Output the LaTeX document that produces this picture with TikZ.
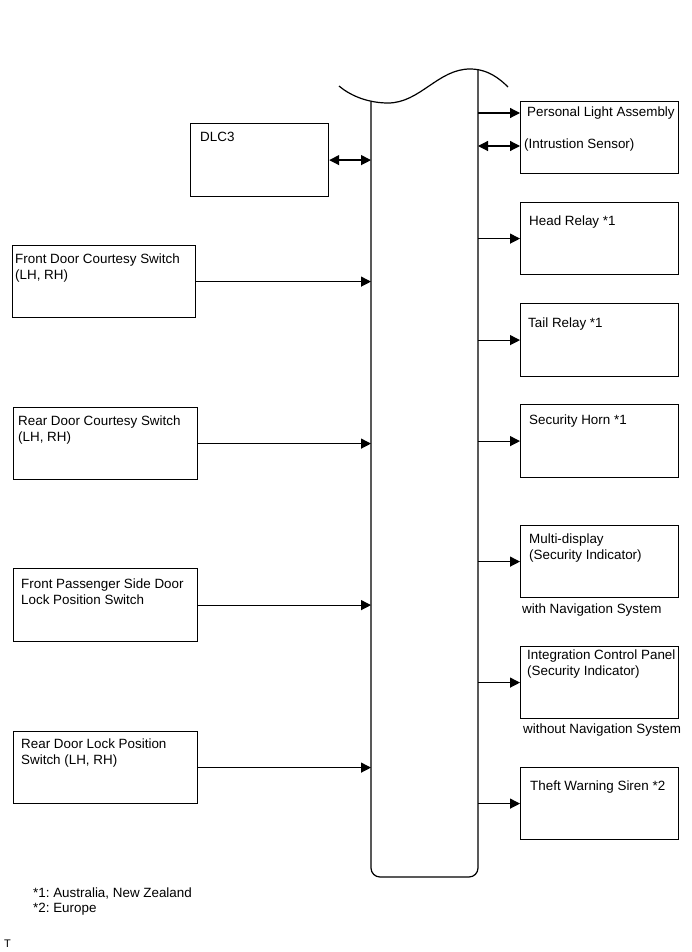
\documentclass[tikz,border=0pt]{standalone}
\usepackage{fontspec}
\setmainfont{Liberation Sans}
\frenchspacing
\usetikzlibrary{arrows.meta}
\begin{document}
\begin{tikzpicture}[x=1pt,y=-1pt,
  box/.style={draw, line width=1.2pt, inner sep=0pt, anchor=north west},
  lbl/.style={inner sep=0pt, anchor=base west, align=left, font=\fontsize{13.4pt}{16pt}\selectfont},
  arr/.style={line width=1.2pt, -{Triangle[length=10pt,width=10pt]}},
  darr/.style={line width=1.2pt, {Triangle[length=10pt,width=10pt]}-{Triangle[length=10pt,width=10pt]}},
  ln/.style={line width=1.2pt}]
\useasboundingbox (0,0) rectangle (691,952);
% ECU bar
\coordinate (barL) at (371,102);
\coordinate (barR) at (478,70);
\draw[ln] (339,86) .. controls (352,97) and (370,103) .. (388,103)
  .. controls (420,103) and (438,69) .. (470,69)
  .. controls (488,69) and (500,79) .. (508,87);
\draw[ln, rounded corners=9pt] (barL) -- (371,877) -- (478,877) -- (barR);
% left boxes
\node[box, minimum width=138pt, minimum height=73pt] (dlc) at (190,123) {};
\node[lbl] (dlct) at (200,142) {DLC3};
\node[box, minimum width=183pt, minimum height=72pt] (fd) at (12,245) {};
\node[lbl] (fdt) at (15,279) {Front Door Courtesy Switch\\(LH, RH)};
\node[box, minimum width=184pt, minimum height=72pt] (rd) at (13,407) {};
\node[lbl] (rdt) at (18,441) {Rear Door Courtesy Switch\\(LH, RH)};
\node[box, minimum width=184pt, minimum height=73pt] (fp) at (13,568) {};
\node[lbl] (fpt) at (21,604) {Front Passenger Side Door\\Lock Position Switch};
\node[box, minimum width=184pt, minimum height=72pt] (rl) at (13,731) {};
\node[lbl] (rlt) at (21,764) {Rear Door Lock Position\\Switch (LH, RH)};
% right boxes
\node[box, minimum width=158pt, minimum height=72pt] (pl) at (520,101) {};
\node[lbl] (plt) at (527,117) {Personal Light Assembly};
\node[lbl] (ist) at (524,149) {(Intrustion Sensor)};
\node[box, minimum width=158pt, minimum height=72pt] (hr) at (520,202) {};
\node[lbl] (hrt) at (529,225) {Head Relay *1};
\node[box, minimum width=158pt, minimum height=73pt] (tr) at (520,303) {};
\node[lbl] (trt) at (528,327) {Tail Relay *1};
\node[box, minimum width=158pt, minimum height=73pt] (sh) at (520,404) {};
\node[lbl] (sht) at (529,424) {Security Horn *1};
\node[box, minimum width=158pt, minimum height=72pt] (md) at (520,525) {};
\node[lbl] (mdt) at (529,559) {Multi-display\\(Security Indicator)};
\node[lbl] (mdn) at (522,613) {with Navigation System};
\node[box, minimum width=158pt, minimum height=72pt] (ic) at (520,646) {};
\node[lbl] (ict) at (527,675) {Integration Control Panel\\(Security Indicator)};
\node[lbl] (icn) at (523,733) {without Navigation System};
\node[box, minimum width=158pt, minimum height=72pt] (tw) at (520,767) {};
\node[lbl] (twt) at (530,790) {Theft Warning Siren *2};
% connectors
\draw[darr] (dlc.east) -- (dlc.east -| barL);
\draw[arr] (fd.east) -- (fd.east -| barL);
\draw[arr] (rd.east) -- (rd.east -| barL);
\draw[arr] (fp.east) -- (fp.east -| barL);
\draw[arr] (rl.east) -- (rl.east -| barL);
\coordinate (plA) at (520,113);
\coordinate (plB) at (520,146);
\draw[arr] (plA -| barR) -- (plA);
\draw[darr] (plB -| barR) -- (plB);
\draw[arr] (hr.west -| barR) -- (hr.west);
\draw[arr] (tr.west -| barR) -- (tr.west);
\draw[arr] (sh.west -| barR) -- (sh.west);
\draw[arr] (md.west -| barR) -- (md.west);
\draw[arr] (ic.west -| barR) -- (ic.west);
\draw[arr] (tw.west -| barR) -- (tw.west);
% notes
\node[lbl] (n1) at (33,897) {*1: Australia, New Zealand};
\node[lbl] (n2) at (33,912) {*2: Europe};
\node[lbl, font=\fontsize{11pt}{13pt}\selectfont] (tt) at (4,947) {T};
\end{tikzpicture}
\end{document}
